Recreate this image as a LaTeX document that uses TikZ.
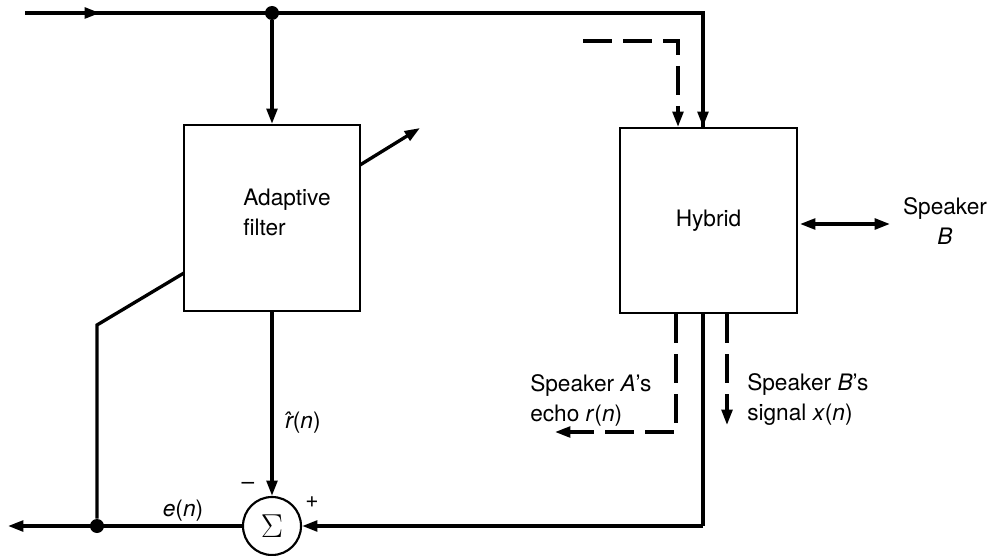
\documentclass[tikz,border=0pt]{standalone}
\usepackage{fontspec}
\setmainfont{TeX Gyre Heros}
\usetikzlibrary{arrows.meta}
\begin{document}
\begin{tikzpicture}[x=0.75pt,y=-0.75pt,
  every node/.style={font=\fontsize{17}{22.5}\selectfont, inner sep=0pt},
  wire/.style={line width=2.5pt},
  arr/.style={wire,-{Triangle[length=11.5pt,width=8pt]}},
  dwire/.style={line width=2.5pt, dash pattern=on 22pt off 8pt},
  darr/.style={dwire,-{Triangle[length=11.5pt,width=8pt]}},
  blk/.style={draw, line width=1.6pt, rectangle},
  dot/.style={circle, fill=black, minimum size=10.5pt, inner sep=0pt}]
\useasboundingbox (0,0) rectangle (996,556);
% blocks
\node[blk, minimum width=132pt, minimum height=139.5pt] (filt) at (272,218) {};
\node[anchor=west, align=left] (filtlbl) at (243,212) {Adaptive\\filter};
\node[blk, minimum width=132.75pt, minimum height=138.75pt] (hyb) at (708.5,220.5) {Hybrid};
\node[draw, circle, line width=1.6pt, minimum size=43.5pt, inner sep=0pt] (sum) at (272,526) {\fontsize{23}{23}\selectfont$\Sigma$};
% coordinates
\coordinate (tl) at (25,13);
\node[dot] (j1) at (272,13) {};
\coordinate (tr) at (703,13);
\node[dot] (j2) at (97,526) {};
\coordinate (outL) at (8,526);
\coordinate (ds) at (583,41);
\coordinate (dc) at (678,41);
\coordinate (dg1) at (360,165);
\coordinate (dg2) at (420,128);
\coordinate (lk1) at (184,273);
\coordinate (lk2) at (97,325);
\coordinate (rb) at (703,526);
\coordinate (ba) at (800,224);
\coordinate (bb) at (890,224);
\coordinate (ecc) at (676,432);
\coordinate (ece) at (555,432);
\coordinate (sge) at (727,425);
% top line
\draw[wire] (tl) -- (tr) -- (tr |- hyb.north);
\draw[arr] (tl) -- (100,13);
\draw[arr] (tr) -- (tr |- hyb.north);
\draw[arr] (j1) -- (filt.north);
\draw[darr] (ds) -- (dc) -- (dc |- hyb.north);
% adaptation arrow
\draw[arr] (dg1) -- (dg2);
% filter output
\draw[arr] (filt.south) -- (sum.north);
% error feedback
\draw[wire] (lk1) -- (lk2) -- (j2);
\draw[arr] (sum.west) -- (outL);
% hybrid output
\draw[wire] (tr |- hyb.south) -- (rb);
\draw[arr] (rb) -- (sum.east);
% speaker B
\draw[wire,{Triangle[length=11.5pt,width=8pt]}-{Triangle[length=11.5pt,width=8pt]}] (ba) -- (bb);
\node[align=center] (spkB) at (945,221) {Speaker\\\textit{B}};
% dashed outputs
\draw[darr] (ecc |- hyb.south) -- (ecc) -- (ece);
\draw[darr] (sge |- hyb.south) -- (sge);
\node[anchor=west, align=left] (echo) at (530,400) {Speaker \textit{A}'s\\echo \textit{r}(\textit{n})};
\node[anchor=west, align=left] (sig) at (747,400) {Speaker \textit{B}'s\\signal \textit{x}(\textit{n})};
% labels
\node (rhat) at (303,423) {\textit{\^r}(\textit{n})};
\node (en) at (183,511) {\textit{e}(\textit{n})};
\node (minus) at (248,486) {–};
\node (plus) at (312,502) {+};
\end{tikzpicture}
\end{document}
